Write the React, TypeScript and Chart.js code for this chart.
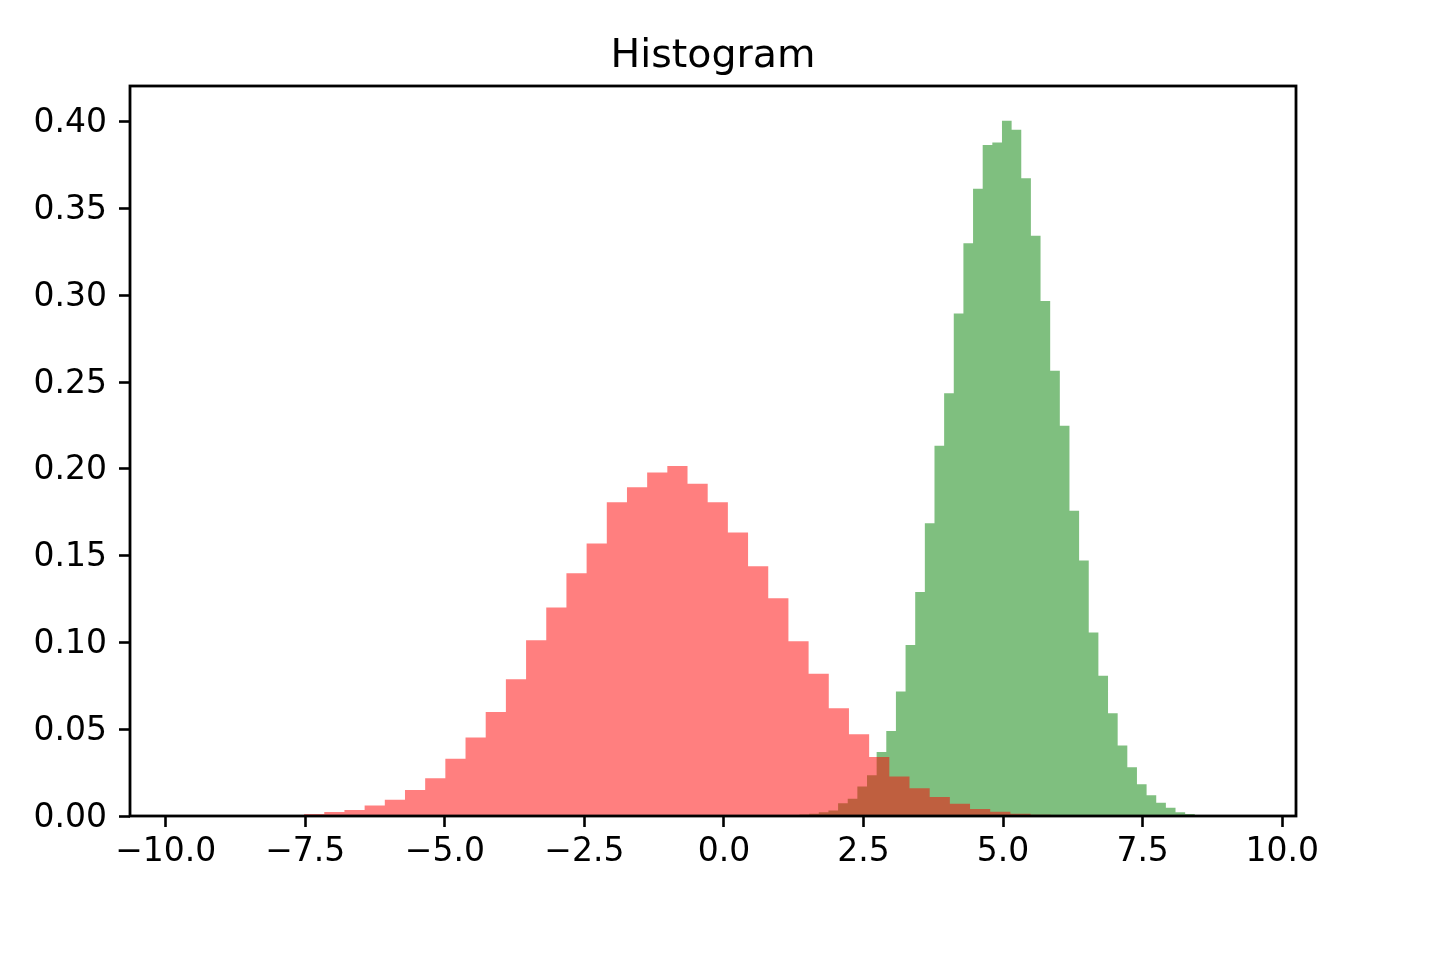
import { useEffect, useRef } from 'react'
import { Chart, registerables } from 'chart.js'

Chart.register(...registerables)

// red histogram: 50 bins, density
const redStart = -9.69
const redBinWidth = 0.3615
const redDensity = [
  0.0001, 0, 0, 0, 0, 0, 0.0012, 0.0023, 0.0035, 0.0061,
  0.0094, 0.015, 0.0218, 0.033, 0.0453, 0.0599, 0.0788, 0.1013, 0.1201, 0.1399,
  0.157, 0.1808, 0.1894, 0.1979, 0.2017, 0.1915, 0.1808, 0.1633, 0.1439, 0.1255,
  0.1007, 0.082, 0.0621, 0.0471, 0.034, 0.0227, 0.016, 0.011, 0.0071, 0.004,
  0.0025, 0.0013, 0.0007, 0.0004, 0.0002, 0.0001, 0.0001, 0, 0, 0.0001,
]

// green histogram: 50 bins, density
const greenStart = 0.663
const greenBinWidth = 0.1727
const greenDensity = [
  0.0001, 0.0002, 0.0003, 0.0005, 0.0008, 0.0013, 0.0022, 0.0031, 0.0074, 0.01,
  0.017, 0.0235, 0.0369, 0.049, 0.0717, 0.0986, 0.1291, 0.1687, 0.2134, 0.2436,
  0.2895, 0.33, 0.3614, 0.3866, 0.3881, 0.4006, 0.3954, 0.3675, 0.3343, 0.2968,
  0.2566, 0.2249, 0.1759, 0.1472, 0.1057, 0.0808, 0.0592, 0.0406, 0.0281, 0.0183,
  0.0119, 0.0077, 0.0048, 0.0021, 0.0012, 0.0006, 0.0003, 0.0001, 0.0001, 0.0001,
]

const xTickValues = [-10, -7.5, -5, -2.5, 0, 2.5, 5, 7.5, 10]
const yTickValues = [0, 0.05, 0.1, 0.15, 0.2, 0.25, 0.3, 0.35, 0.4]

// one point per bin edge, drawn as a filled step line
const toSteps = (start: number, width: number, values: number[]) => {
  const pts = values.map((v, i) => ({ x: start + i * width, y: v }))
  pts.push({ x: start + values.length * width, y: 0 })
  return pts
}

const framePlugin = {
  id: 'frame',
  afterDraw(chart: any) {
    const { ctx, chartArea } = chart
    const { left, top, right, bottom } = chartArea
    ctx.save()
    ctx.strokeStyle = '#000'
    ctx.lineWidth = 2.8
    ctx.strokeRect(left, top, right - left, bottom - top)
    ctx.restore()
  },
}

const HistogramChart = () => {
  const canvasRef = useRef<HTMLCanvasElement>(null)
  const chartRef = useRef<Chart | null>(null)

  useEffect(() => {
    if (!canvasRef.current) return
    if (chartRef.current) chartRef.current.destroy()

    const lo = redStart
    const hi = greenStart + greenDensity.length * greenBinWidth
    const margin = (hi - lo) * 0.05
    const yMax = Math.max(...redDensity, ...greenDensity) * 1.05

    const tickFont = { family: 'DejaVu Sans', size: 33 }

    chartRef.current = new Chart(canvasRef.current, {
      type: 'line',
      data: {
        datasets: [
          {
            label: 'red',
            data: toSteps(redStart, redBinWidth, redDensity),
            stepped: 'before',
            fill: 'origin',
            backgroundColor: 'rgba(255, 0, 0, 0.5)',
            borderColor: 'transparent',
            borderWidth: 0,
            pointRadius: 0,
            order: 0,
          },
          {
            label: 'green',
            data: toSteps(greenStart, greenBinWidth, greenDensity),
            stepped: 'before',
            fill: 'origin',
            backgroundColor: 'rgba(0, 128, 0, 0.5)',
            borderColor: 'transparent',
            borderWidth: 0,
            pointRadius: 0,
            order: 1,
          },
        ],
      },
      options: {
        animation: false,
        responsive: true,
        maintainAspectRatio: false,
        layout: { padding: { left: 0, right: 144, top: 0, bottom: 0 } },
        plugins: {
          legend: { display: false },
          tooltip: { enabled: false },
          title: {
            display: true,
            text: 'Histogram',
            fullSize: false,
            color: '#000',
            font: { family: 'DejaVu Sans', size: 39.5, weight: 'normal' },
            padding: { top: 33, bottom: 5.6 },
          },
        },
        scales: {
          x: {
            type: 'linear',
            min: lo - margin,
            max: hi + margin,
            border: { display: false },
            grid: {
              drawOnChartArea: false,
              drawTicks: true,
              tickLength: 11,
              tickColor: '#000',
              tickWidth: 2.6,
            },
            afterBuildTicks: (scale: any) => {
              scale.ticks = xTickValues.map((v) => ({ value: v }))
            },
            afterFit: (scale: any) => {
              scale.height = 144
            },
            ticks: {
              color: '#000',
              font: tickFont,
              padding: 6,
              maxRotation: 0,
              autoSkip: false,
              callback: (v: any) => Number(v).toFixed(1).replace('-', '\u2212'),
            },
          },
          y: {
            min: 0,
            max: yMax,
            border: { display: false },
            grid: {
              drawOnChartArea: false,
              drawTicks: true,
              tickLength: 11,
              tickColor: '#000',
              tickWidth: 2.6,
            },
            afterBuildTicks: (scale: any) => {
              scale.ticks = yTickValues.map((v) => ({ value: v }))
            },
            afterFit: (scale: any) => {
              scale.width = 130
            },
            ticks: {
              color: '#000',
              font: tickFont,
              padding: 12,
              labelOffset: 2,
              autoSkip: false,
              callback: (v: any) => Number(v).toFixed(2),
            },
          },
        },
      },
      plugins: [framePlugin],
    })

    return () => {
      if (chartRef.current) {
        chartRef.current.destroy()
        chartRef.current = null
      }
    }
  }, [])

  return <canvas ref={canvasRef} />
}

export default function App() {
  return (
    <div style={{ position: 'absolute', left: 0, top: 0, width: 1440, height: 960, background: '#fff' }}>
      <HistogramChart />
    </div>
  )
}
